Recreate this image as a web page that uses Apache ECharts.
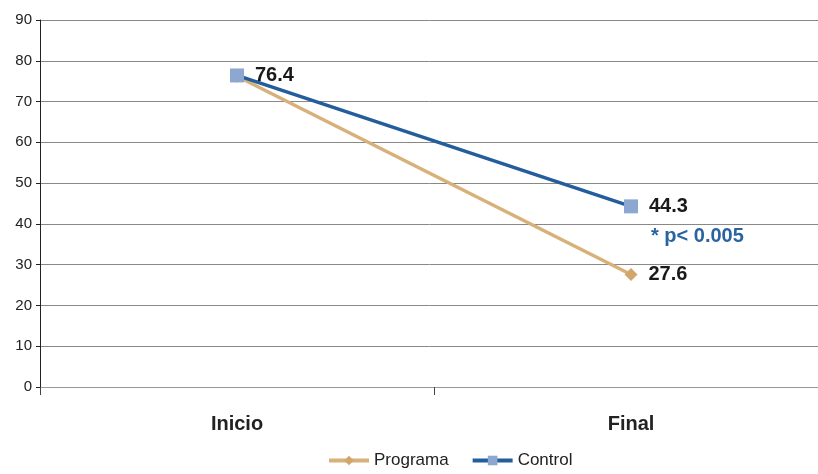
<!DOCTYPE html>
<html>
<head>
<meta charset="utf-8">
<script src="https://cdn.jsdelivr.net/npm/echarts@6/dist/echarts.min.js"></script>
<style>html,body{margin:0;padding:0;background:#fff}#c{width:818px;height:474px}</style>
</head>
<body>
<div id="c"></div>
<script>
const categories = ['Inicio', 'Final'];
const programa = [76.2, 27.6];
const control = [76.4, 44.3];
const programaLabels = [false, true];
const yTicks = [0, 10, 20, 30, 40, 50, 60, 70, 80, 90];
const noteText = '* p< 0.005';
const noteValue = 37;

const chart = echarts.init(document.getElementById('c'));
const font = 'Liberation Sans, Arial, sans-serif';
chart.setOption({
  animation: false,
  backgroundColor: '#fff',
  grid: { left: 40, width: 788, top: 20, bottom: 87, containLabel: false, outerBoundsMode: 'none' },
  legend: {
    bottom: 0, left: 322, itemWidth: 40, itemHeight: 12, itemGap: 22,
    textStyle: { fontFamily: font, fontSize: 17, color: '#222' },
    lineStyle: { width: 4 },
    data: ['Programa', 'Control']
  },
  xAxis: {
    type: 'category', data: categories, boundaryGap: true,
    axisLine: { lineStyle: { color: '#999', width: 1 } },
    axisTick: { show: true, length: 8, lineStyle: { color: '#444' } },
    axisLabel: { fontFamily: font, fontSize: 20, fontWeight: 'bold', color: '#222', margin: 27 }
  },
  yAxis: {
    type: 'value', min: 0, max: 90, interval: 10,
    axisLine: { show: true, lineStyle: { color: '#222', width: 1 } },
    axisTick: { show: true, length: 4, lineStyle: { color: '#222' } },
    axisLabel: { fontFamily: font, fontSize: 15, color: '#222', margin: 8 },
    splitLine: { lineStyle: { color: '#888', width: 1 } }
  },
  series: [
    {
      name: 'Programa', type: 'line', data: programa.map((v, i) => ({ value: v, label: { show: programaLabels[i] } })),
      symbol: 'diamond', symbolSize: 13,
      lineStyle: { color: '#D8B07A', width: 3.5 },
      itemStyle: { color: '#D2A56B' },
      label: { show: true, position: 'right', distance: 11, fontFamily: font, fontSize: 20, fontWeight: 'bold', color: '#1a1a1a' }
    },
    {
      name: 'Control', type: 'line', data: control,
      symbol: 'rect', symbolSize: 14,
      lineStyle: { color: '#235D9B', width: 3.5 },
      itemStyle: { color: '#8DA8D0' },
      label: { show: true, position: 'right', distance: 11, fontFamily: font, fontSize: 20, fontWeight: 'bold', color: '#1a1a1a' },
      markPoint: {
        symbol: 'circle', symbolSize: 0,
        data: [{ coord: ['Final', noteValue], value: noteText }],
        label: { show: true, position: 'right', distance: 20, formatter: noteText, fontFamily: font, fontSize: 20, fontWeight: 'bold', color: '#2A63A0' }
      }
    }
  ]
});
</script>
</body>
</html>
